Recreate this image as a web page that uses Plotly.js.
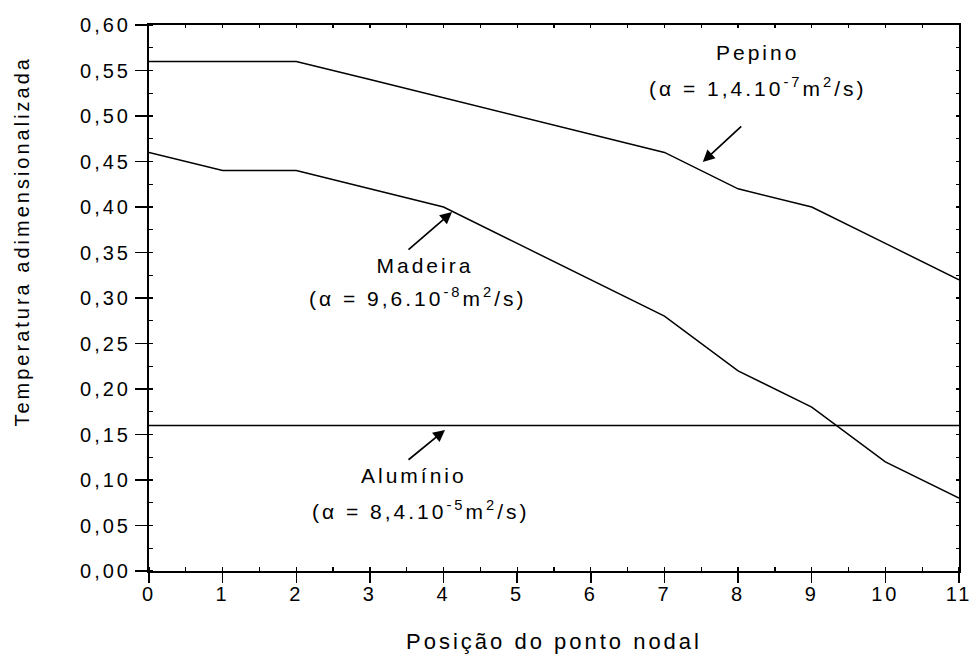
<!DOCTYPE html>
<html>
<head>
<meta charset="utf-8">
<script src="https://cdn.plot.ly/plotly-3.0.1.min.js"></script>
<style>
  html, body { margin: 0; padding: 0; background: #fff; }
  #chart { width: 970px; height: 655px; }
  #chart svg text { letter-spacing: 3px; }
</style>
</head>
<body>
<div id="chart"></div>
<script>
// Nodal positions along the sample
const posicoes = [0, 1, 2, 3, 4, 5, 6, 7, 8, 9, 10, 11];

// Dimensionless temperature at each node, per material
const pepino   = [0.56, 0.56, 0.56, 0.54, 0.52, 0.50, 0.48, 0.46, 0.42, 0.40, 0.36, 0.32];
const madeira  = [0.46, 0.44, 0.44, 0.42, 0.40, 0.36, 0.32, 0.28, 0.22, 0.18, 0.12, 0.08];
const aluminio = [0.16, 0.16, 0.16, 0.16, 0.16, 0.16, 0.16, 0.16, 0.16, 0.16, 0.16, 0.16];

// Material names and their thermal diffusivities
const materiais = ['Pepino', 'Madeira', 'Alumínio'];
const difusividades = [
  '(α = 1,4.10<sup>-7</sup>m<sup>2</sup>/s)',
  '(α = 9,6.10<sup>-8</sup>m<sup>2</sup>/s)',
  '(α = 8,4.10<sup>-5</sup>m<sup>2</sup>/s)'
];

const FONT = '"Liberation Sans", Arial, Helvetica, sans-serif';
const lineStyle = { color: '#000', width: 1.5 };

const traces = [
  { x: posicoes, y: pepino,   name: materiais[0], mode: 'lines', line: lineStyle, hoverinfo: 'skip' },
  { x: posicoes, y: madeira,  name: materiais[1], mode: 'lines', line: lineStyle, hoverinfo: 'skip' },
  { x: posicoes, y: aluminio, name: materiais[2], mode: 'lines', line: lineStyle, hoverinfo: 'skip',
    xaxis: 'x2', yaxis: 'y2' }
];

function label(x, y, text) {
  return { x: x, y: y, xref: 'x', yref: 'y', text: text, showarrow: false,
           xanchor: 'center', yanchor: 'middle', font: { family: FONT, size: 21, color: '#000' } };
}
function arrow(x, y, ax, ay) {
  return { x: x, y: y, xref: 'x', yref: 'y', text: '', showarrow: true, ax: ax, ay: ay,
           arrowhead: 2, arrowsize: 1.4, arrowwidth: 1.7, arrowcolor: '#000', standoff: 0 };
}

const annotations = [
  label(8.26, 0.570, materiais[0]),
  label(8.27, 0.532, difusividades[0]),
  arrow(7.52, 0.4495, 40, -37),

  label(3.75, 0.336, materiais[1]),
  label(3.65, 0.301, difusividades[1]),
  arrow(4.115, 0.3945, -45, 39),

  label(3.60, 0.1055, materiais[2]),
  label(3.69, 0.067, difusividades[2]),
  arrow(4.02, 0.155, -38, 31),

  // vertical axis title
  { xref: 'paper', yref: 'paper', x: -0.157, y: 0.604, text: 'Temperatura adimensionalizada',
    textangle: -90, showarrow: false, xanchor: 'center', yanchor: 'middle',
    font: { family: FONT, size: 20, color: '#000' } }
];

const layout = {
  width: 970, height: 655,
  margin: { l: 149, r: 11, t: 25, b: 84 },
  paper_bgcolor: '#fff', plot_bgcolor: '#fff',
  separators: ',.',
  showlegend: false,
  font: { family: FONT, size: 20, color: '#000' },
  xaxis: {
    range: [0, 11], dtick: 1, tick0: 0,
    showgrid: false, zeroline: false,
    showline: true, linecolor: '#000', linewidth: 2,
    ticks: 'outside', ticklen: 10, tickwidth: 1.5, tickcolor: '#000',
    ticklabelstandoff: -6,
    minor: { dtick: 0.5, ticks: 'inside', ticklen: 4, tickwidth: 1.2, tickcolor: '#000' },
    tickfont: { family: FONT, size: 20, color: '#000' },
    title: { text: 'Posição do ponto nodal', font: { family: FONT, size: 22, color: '#000' }, standoff: 30 }
  },
  yaxis: {
    range: [0, 0.6], dtick: 0.05, tick0: 0, tickformat: '.2f',
    showgrid: false, zeroline: false,
    showline: true, linecolor: '#000', linewidth: 2,
    ticks: 'outside', ticklen: 12, tickwidth: 1.5, tickcolor: '#000',
    minor: { dtick: 0.025, ticks: 'inside', ticklen: 4, tickwidth: 1.2, tickcolor: '#000' },
    tickfont: { family: FONT, size: 20, color: '#000' }
  },
  // frame on top and right with small ticks
  xaxis2: {
    overlaying: 'x', side: 'top', anchor: 'y2', matches: 'x',
    range: [0, 11], dtick: 0.5, showticklabels: false,
    showgrid: false, zeroline: false,
    showline: true, linecolor: '#000', linewidth: 2,
    ticks: 'inside', ticklen: 3, tickwidth: 1.2, tickcolor: '#000'
  },
  yaxis2: {
    overlaying: 'y', side: 'right', anchor: 'x2', matches: 'y',
    range: [0, 0.6], dtick: 0.025, showticklabels: false,
    showgrid: false, zeroline: false,
    showline: true, linecolor: '#000', linewidth: 2,
    ticks: 'inside', ticklen: 3, tickwidth: 1.2, tickcolor: '#000'
  },
  annotations: annotations
};

Plotly.newPlot('chart', traces, layout, { staticPlot: true, displayModeBar: false });
</script>
</body>
</html>
